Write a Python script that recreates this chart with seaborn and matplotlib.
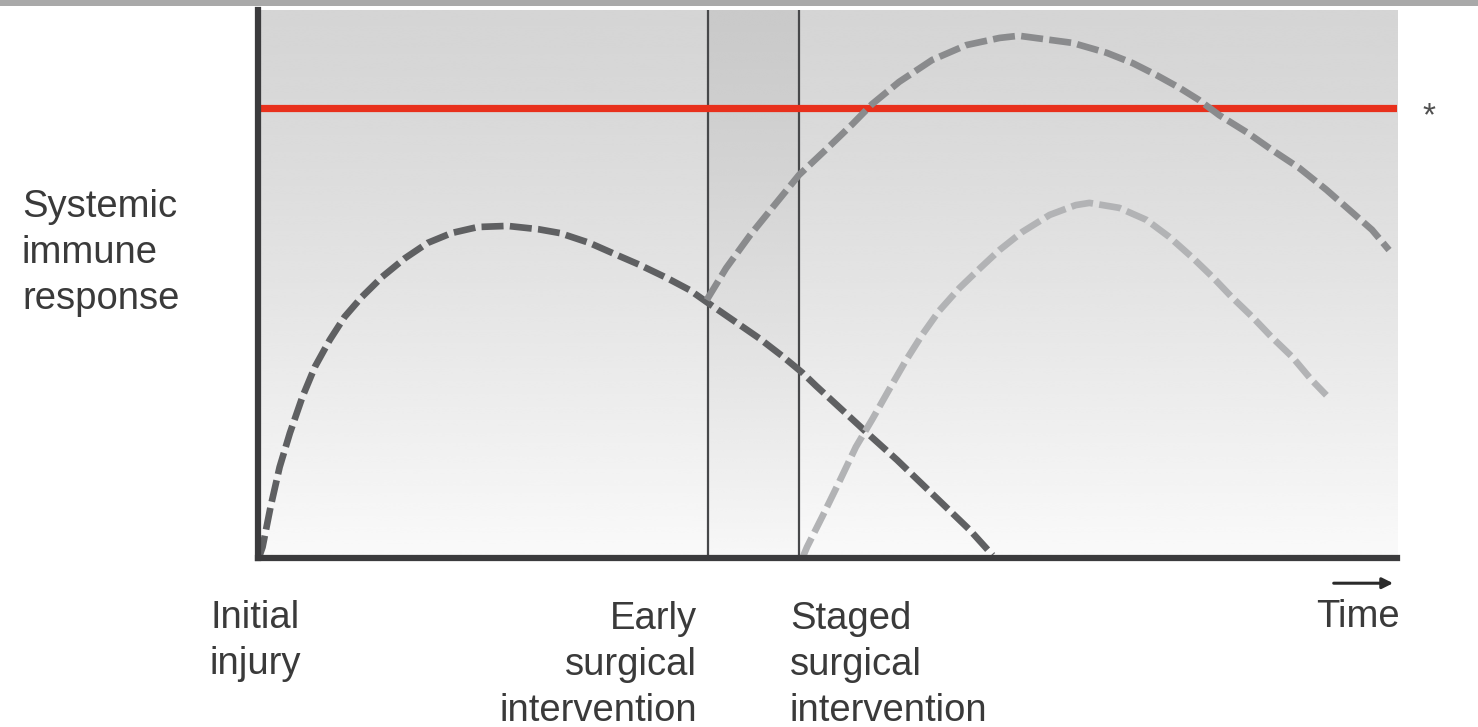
import numpy as np
import pandas as pd
import matplotlib
matplotlib.use("Agg")
import matplotlib.pyplot as plt
from matplotlib.patches import Rectangle
import seaborn as sns

# ---- data (time in arbitrary units 0-100, response 0-100) ----
initial_time = [0.1, 0.4, 1.1, 1.9, 2.8, 3.9, 5.0, 6.3, 7.6, 9.1, 10.9, 12.9,
                14.9, 17.0, 19.3, 21.9, 24.6, 26.5, 29.1, 31.5, 33.5, 35.9,
                37.9, 39.4, 41.7, 44.0, 46.0, 47.8, 49.0, 51.3, 53.7, 56.1,
                58.3, 60.4, 62.5, 64.5]
initial_resp = [0.2, 2.0, 9.3, 16.6, 22.8, 29.4, 34.9, 39.8, 44.0, 47.6, 51.3,
                54.7, 57.5, 59.3, 60.4, 60.6, 60.0, 59.3, 57.5, 55.3, 53.5,
                51.1, 48.9, 46.7, 43.4, 40.1, 36.9, 33.8, 31.4, 27.0, 22.4,
                17.9, 13.5, 9.3, 5.1, 0.5]

early_time = [39.4, 41.1, 43.2, 45.5, 47.5, 49.9, 52.2, 53.9, 56.3, 59.2,
              62.2, 65.1, 66.8, 69.7, 71.5, 74.5, 76.8, 78.9, 80.9, 82.6,
              84.4, 86.8, 89.0, 91.4, 93.8, 96.1, 97.8, 99.3]
early_resp = [47.1, 52.9, 58.9, 64.8, 69.9, 74.6, 79.2, 82.8, 86.9, 90.9,
              93.6, 94.9, 95.3, 94.5, 94.0, 92.2, 90.3, 88.1, 85.8, 83.6,
              80.8, 77.7, 74.5, 71.2, 67.2, 63.0, 59.9, 56.2]

staged_time = [47.8, 48.2, 49.6, 51.1, 52.5, 53.9, 55.4, 56.9, 58.3, 59.8,
               61.6, 63.4, 65.1, 67.1, 69.5, 71.8, 73.0, 75.6, 78.0, 80.0,
               82.0, 83.8, 85.5, 87.3, 89.0, 90.8, 92.5, 93.8]
staged_resp = [0.0, 2.0, 7.8, 14.2, 20.3, 25.2, 30.7, 36.1, 40.7, 45.1,
               49.3, 52.9, 56.2, 59.5, 62.6, 64.4, 64.8, 63.9, 61.7, 58.6,
               54.9, 51.3, 47.6, 44.0, 40.3, 36.7, 32.5, 29.7]

threshold = 82.1
early_surgery_time = 39.5
staged_surgery_time = 47.5

x_labels = ["Initial\ninjury", "Early\nsurgical\nintervention",
            "Staged\nsurgical\nintervention", "Time"]
y_label = "Systemic\nimmune\nresponse"

# ---- figure ----
sns.set_style("white")
plt.rcParams['font.family'] = ['Liberation Sans', 'DejaVu Sans']

W, H = 1478, 727
fig = plt.figure(figsize=(W / 100, H / 100), dpi=100)
ax = fig.add_axes([258 / W, 1 - 558 / H, (1397 - 258) / W, (558 - 10) / H])

# background gradient
t = np.linspace(0, 1, 256)[:, None]  # 0 top -> 1 bottom
grad = 0.835 + 0.145 * t ** 1.3
ax.imshow(np.repeat(grad, 2, axis=1), cmap="gray", vmin=0, vmax=1,
          extent=[0, 100, 0, 100], aspect="auto", zorder=0,
          interpolation="bicubic")
band = grad - 0.035 * (1 - t) - 0.01
ax.imshow(np.repeat(band, 2, axis=1), cmap="gray", vmin=0, vmax=1,
          extent=[early_surgery_time, staged_surgery_time, 0, 100],
          aspect="auto", zorder=0.5, interpolation="bicubic")
ax.set_xlim(0, 100)
ax.set_ylim(0, 100)

# surgery vertical lines
for xv in (early_surgery_time, staged_surgery_time):
    ax.axvline(xv, color="#47484a", lw=1.6, zorder=2)

# red threshold
ax.axhline(threshold, color="#e8301c", lw=5.2, zorder=3)

dash = (0, (3.3, 0.95))
sns.lineplot(x=initial_time, y=initial_resp, ax=ax, color="#5f6062", lw=4.8,
             linestyle=dash, sort=False, estimator=None, zorder=4)
sns.lineplot(x=early_time, y=early_resp, ax=ax, color="#8a8b8d", lw=4.8,
             linestyle=dash, sort=False, estimator=None, zorder=4)
sns.lineplot(x=staged_time, y=staged_resp, ax=ax, color="#b2b3b5", lw=4.8,
             linestyle=dash, sort=False, estimator=None, zorder=4)

# spines
for s in ("top", "right"):
    ax.spines[s].set_visible(False)
for s in ("left", "bottom"):
    ax.spines[s].set_color("#3b3b3d")
    ax.spines[s].set_linewidth(4.5)
    ax.spines[s].set_zorder(6)
ax.set_xticks([])
ax.set_yticks([])
ax.set_xlabel("")
ax.set_ylabel("")

# asterisk
ax.text(102.8, threshold - 1.5, "*", fontsize=24, color="#505050",
        ha="center", va="center", clip_on=False)

fs = 27.5
ls = 1.36
col = "#3a3a3a"
def fx(px):
    return px / W
def fy(py):
    return 1 - py / H

fig.text(fx(22), fy(253), y_label, fontsize=fs, color=col, ha="left",
         va="center", linespacing=ls)
fig.text(fx(210), fy(641), x_labels[0], fontsize=fs, color=col, ha="left",
         va="center", linespacing=ls)
fig.text(fx(697), fy(665), x_labels[1], fontsize=fs, color=col, ha="right",
         va="center", linespacing=ls, multialignment="right")
fig.text(fx(790), fy(665), x_labels[2], fontsize=fs, color=col, ha="left",
         va="center", linespacing=ls)
fig.text(fx(1400), fy(617), x_labels[3], fontsize=fs, color=col, ha="right",
         va="center")

# time arrow
ax.annotate("", xy=(0.999, -0.046), xytext=(0.942, -0.046),
            xycoords="axes fraction", textcoords="axes fraction",
            arrowprops=dict(arrowstyle="-|>", color="#2a2a2a", lw=2.2,
                            mutation_scale=16), annotation_clip=False)

# top border strip
fig.add_artist(Rectangle((0, 1 - 6 / H), 1, 6 / H, transform=fig.transFigure,
                         color="#a9a9a9", lw=0))

fig.savefig("out.png", dpi=100)
